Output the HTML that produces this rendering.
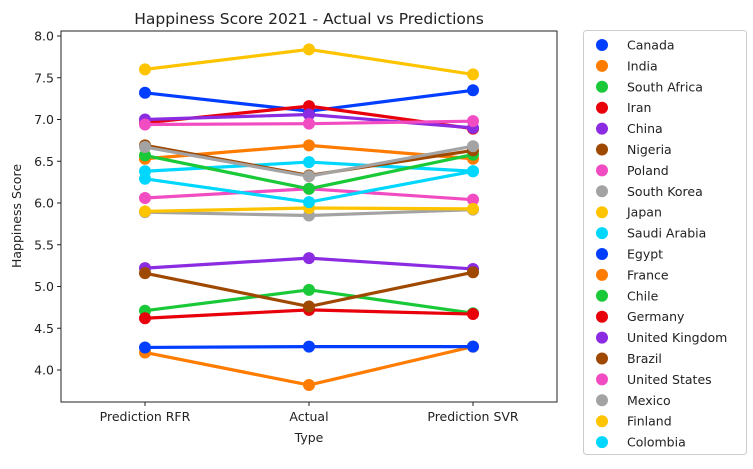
<!DOCTYPE html>
<html><head><meta charset="utf-8"><style>
body{margin:0;background:#fff;font-family:"DejaVu Sans","Liberation Sans",sans-serif}
svg text{font-family:"DejaVu Sans","Liberation Sans",sans-serif;fill:#222}
</style></head><body>
<svg id="c" width="753" height="465"></svg>
<script>
const categories=["Prediction RFR","Actual","Prediction SVR"];
const countries=["Canada","India","South Africa","Iran","China","Nigeria","Poland","South Korea","Japan","Saudi Arabia","Egypt","France","Chile","Germany","United Kingdom","Brazil","United States","Mexico","Finland","Colombia"];
const rfr=[7.32,4.21,4.71,4.62,5.22,5.16,6.06,5.89,5.90,6.38,4.27,6.53,6.57,6.96,7.00,6.69,6.94,6.67,7.60,6.29];
const actual=[7.10,3.82,4.96,4.72,5.34,4.76,6.17,5.85,5.94,6.49,4.28,6.69,6.17,7.16,7.06,6.33,6.95,6.32,7.84,6.01];
const svr=[7.35,4.28,4.68,4.67,5.21,5.17,6.04,5.92,5.93,6.38,4.28,6.53,6.58,6.89,6.90,6.63,6.98,6.68,7.54,6.38];
const yTicks=[4.0,4.5,5.0,5.5,6.0,6.5,7.0,7.5,8.0];
const palette=["#023eff","#ff7c00","#1ac938","#e8000b","#8b2be2","#9f4800","#f14cc1","#a3a3a3","#ffc400","#00d7ff"];
const NS="http://www.w3.org/2000/svg",svg=document.getElementById('c');
function mk(t,a,p){const e=document.createElementNS(NS,t);for(const k in a)e.setAttribute(k,a[k]);(p||svg).appendChild(e);return e;}
const L=61,R=557,T=31,B=402;
const xs=i=>145+i*164;
const ys=v=>36+(8.0-v)*83.5;
let e=mk('text',{x:309,y:24,'text-anchor':'middle','font-size':15.5});e.textContent="Happiness Score 2021 - Actual vs Predictions";


yTicks.forEach(v=>{const y=ys(v);
 let l=mk('line',{x1:L-4,x2:L,y1:y,y2:y,stroke:'#222'});
 
 
 let t=mk('text',{x:L-7,y:y+4.5,'text-anchor':'end','font-size':12.5});t.textContent=v.toFixed(1);
 
 });
categories.forEach((c,i)=>{const x=xs(i);
 let l=mk('line',{x1:x,x2:x,y1:B,y2:B+4,stroke:'#222'});
 
 
 let t=mk('text',{x:x,y:B+19,'text-anchor':'middle','font-size':12.5});t.textContent=c;
 
 });
e=mk('text',{x:309,y:442,'text-anchor':'middle','font-size':12.5});e.textContent="Type";


e=mk('text',{x:21,y:216,'text-anchor':'middle','font-size':12.5,transform:'rotate(-90 21 216)'});e.textContent="Happiness Score";


countries.forEach((c,k)=>{const col=palette[k%10];const vals=[rfr[k],actual[k],svr[k]];
 const g=mk('g',{});
 
 
 mk('polyline',{points:vals.map((v,i)=>xs(i)+','+ys(v)).join(' '),fill:'none',stroke:col,'stroke-width':3.2},g);
 vals.forEach((v,i)=>{const p=mk('circle',{cx:xs(i),cy:ys(v),r:6,fill:col},g);
  
  });
});
const fr=mk('rect',{x:L,y:T,width:R-L,height:B-T,fill:'none',stroke:'#222','stroke-width':1});


const lb=mk('rect',{x:583.5,y:30.5,width:163,height:424,rx:3,fill:'#fff',stroke:'#ccc'});


countries.forEach((c,k)=>{const y=45+k*20.9;
 const g=mk('g',{});
 
 
 mk('circle',{cx:602,cy:y,r:6,fill:palette[k%10]},g);
 const t=mk('text',{x:627,y:y+4.5,'font-size':12.5},g);t.textContent=c;});
</script>
</body></html>
